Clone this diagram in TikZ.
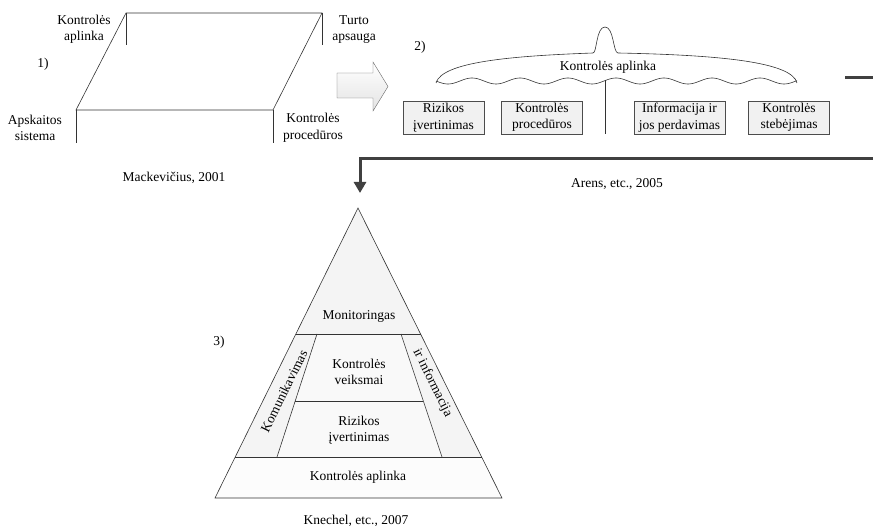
\documentclass[tikz,border=0pt]{standalone}
\usepackage{fontspec}
\setmainfont{Liberation Serif}
\usetikzlibrary{arrows.meta}
\begin{document}
\begin{tikzpicture}[x=1pt,y=-1pt,
  font=\fontsize{13.5}{16.5}\selectfont,
  lbl/.style={align=center, inner sep=0pt},
  catbox/.style={draw=black!70, fill=gray!11, minimum width=81pt, minimum height=33pt, align=center, inner sep=1pt},
  darkline/.style={draw=black!75, line width=3pt},
  thinline/.style={draw=black!80, line width=0.6pt}]
\useasboundingbox (0,0) rectangle (873,526);

% ---------- 1) parallelogram ----------
\coordinate (p1) at (126,13);
\coordinate (p2) at (322,13);
\coordinate (p3) at (273,110);
\coordinate (p4) at (76,110);
\draw[thinline] (p1) -- (p2) -- (p3) -- (p4) -- cycle;
\draw[thinline] (p1) -- ++(0,32);
\draw[thinline] (p2) -- ++(0,32);
\draw[thinline] (p4) -- ++(0,33);
\draw[thinline] (p3) -- ++(0,33);
\node[lbl] (l1) at (84,29.5) {Kontrolės\\aplinka};
\node[lbl] (l2) at (354,29.5) {Turto\\apsauga};
\node[lbl] (l3) at (35,128) {Apskaitos\\sistema};
\node[lbl] (l4) at (313,128) {Kontrolės\\procedūros};
\node[lbl] (n1) at (43,64) {1)};
\node[lbl] (c1) at (174,178) {Mackevičius, 2001};

% ---------- block arrow ----------
\draw[draw=black!60, top color=white, bottom color=gray!22]
  (337,73) -- (373,73) -- (373,62) -- (388,86.5) -- (373,111) -- (373,98) -- (337,98) -- cycle;

% ---------- 2) brace ----------
\node[lbl] (n2) at (420,47) {2)};
\draw[thinline] (436,83) .. controls (442,62) and (510,56) .. (593,53)
  .. controls (597,53) and (596,27) .. (605,27)
  .. controls (614,27) and (613,53) .. (618,53)
  .. controls (720,55) and (792,62) .. (797,83);
\draw[thinline] plot[domain=436:797, samples=200, smooth] (\x, {81+3*sin((\x-436)*7.5)});
\node[lbl] (ka) at (608,67) {Kontrolės aplinka};
\coordinate (vt) at (605,80);
\coordinate (vb) at (605,134);
\draw[thinline] (vt) -- (vb);
\node[catbox] (b1) at (443.5,117.5) {Rizikos\\įvertinimas};
\node[catbox] (b2) at (542,117.5) {Kontrolės\\procedūros};
\node[catbox, minimum width=91pt] (b3) at (679.5,117.5) {Informacija ir\\jos perdavimas};
\node[catbox] (b4) at (789,117.5) {Kontrolės\\stebėjimas};
\node[lbl] (c2) at (617,184) {Arens, etc., 2005};

% ---------- dark connectors ----------
\coordinate (e1) at (845,78);
\coordinate (e2) at (873,78);
\draw[darkline] (e1) -- (e2);
\coordinate (r1) at (873,159);
\coordinate (r2) at (360,159);
\coordinate (r3) at (360,193);
\draw[darkline, -{Triangle[length=11pt,width=12pt]}] (r1) -- (r2) -- (r3);

% ---------- 3) pyramid ----------
\coordinate (ap) at (358,208);
\coordinate (bl) at (215,498);
\coordinate (br) at (502,498);
\coordinate (m1) at (295.9,334);
\coordinate (m2) at (420.6,334);
\coordinate (k1) at (235.2,457);
\coordinate (k2) at (481.6,457);
\coordinate (i1) at (317,334);
\coordinate (i2) at (277,457);
\coordinate (i3) at (401,334);
\coordinate (i4) at (442,457);
\coordinate (j1) at (295.2,401);
\coordinate (j2) at (423.3,401);
\fill[gray!9] (ap) -- (m2) -- (m1) -- cycle;
\fill[gray!9] (m1) -- (i1) -- (i2) -- (k1) -- cycle;
\fill[gray!9] (m2) -- (i3) -- (i4) -- (k2) -- cycle;
\fill[gray!5] (i1) -- (i3) -- (i4) -- (i2) -- cycle;
\fill[gray!2] (k1) -- (k2) -- (br) -- (bl) -- cycle;
\draw[thinline] (ap) -- (br) -- (bl) -- cycle;
\draw[thinline] (m1) -- (m2);
\draw[thinline] (k1) -- (k2);
\draw[thinline] (i1) -- (i2);
\draw[thinline] (i3) -- (i4);
\draw[thinline] (j1) -- (j2);
\node[lbl] (t1) at (359,316) {Monitoringas};
\node[lbl] (t2) at (359,372) {Kontrolės\\veiksmai};
\node[lbl] (t3) at (359,430) {Rizikos\\įvertinimas};
\node[lbl] (t4) at (358,477) {Kontrolės aplinka};
\node[lbl, rotate=63.7] (t5) at (284,391) {Komunikavimas};
\node[lbl, rotate=-63.7] (t6) at (432.5,383) {ir informacija};
\node[lbl] (n3) at (219,342) {3)};
\node[lbl] (c3) at (356,521) {Knechel, etc., 2007};
\end{tikzpicture}
\end{document}
